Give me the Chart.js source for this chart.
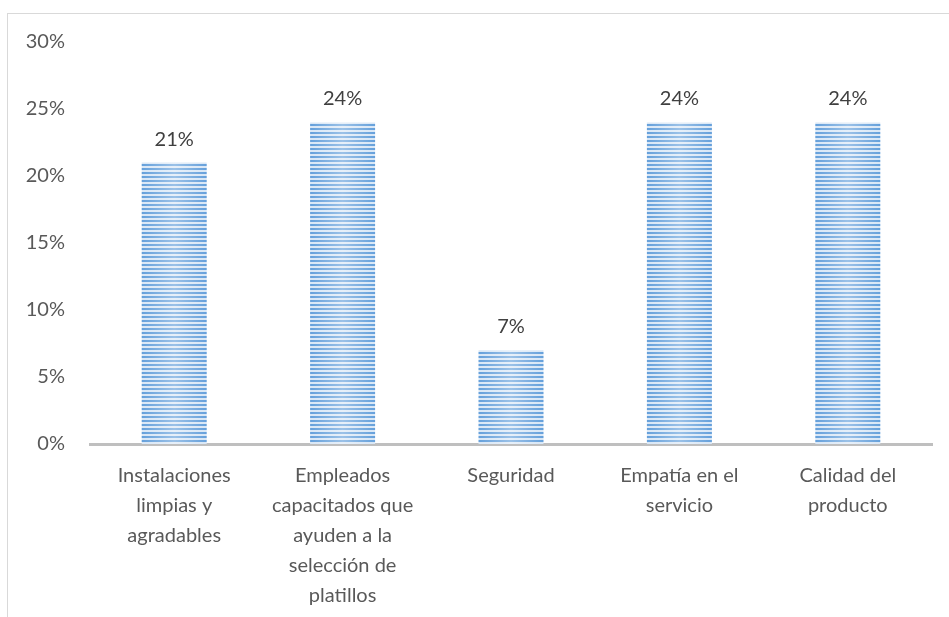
<!DOCTYPE html>
<html>
<head>
<meta charset="utf-8">
<script src="https://cdn.jsdelivr.net/npm/chart.js@4/dist/chart.umd.min.js"></script>
<style>
  html, body { margin: 0; padding: 0; background: #fff; }
  #wrap { position: relative; width: 949px; height: 617px; overflow: hidden; }
  #frame { position: absolute; left: 7px; top: 13px; width: 2000px; height: 2000px;
           border-left: 1px solid #d9d9d9; border-top: 1px solid #d9d9d9; }
  canvas { position: absolute; left: 0; top: 0; }
</style>
</head>
<body>
<div id="wrap">
  <div id="frame"></div>
  <canvas id="c" width="949" height="617"></canvas>
</div>
<script>
const categories = [
  ['Instalaciones', 'limpias y', 'agradables'],
  ['Empleados', 'capacitados que', 'ayuden a la', 'selección de', 'platillos'],
  ['Seguridad'],
  ['Empatía en el', 'servicio'],
  ['Calidad del', 'producto']
];
const values = [21, 24, 7, 24, 24];
const yTicks = [0, 5, 10, 15, 20, 25, 30];

const FONT = 'Lato, "Open Sans", sans-serif';
const FONT_SIZE = 20;

// Horizontal stripe fill used by the bars
function stripePattern(ctx) {
  const p = document.createElement('canvas');
  p.width = 4; p.height = 4;
  const g = p.getContext('2d');
  g.fillStyle = '#D9E7F6';
  g.fillRect(0, 0, 4, 4);
  g.fillStyle = '#65A0DB';
  g.fillRect(0, 0, 4, 2);
  return ctx.createPattern(p, 'repeat');
}

// Soft highlight across the middle of each bar, plus value labels above
const barDecor = {
  id: 'barDecor',
  afterDatasetsDraw(chart) {
    const ctx = chart.ctx;
    const meta = chart.getDatasetMeta(0);
    ctx.save();
    meta.data.forEach((bar, i) => {
      const left = bar.x - bar.width / 2;
      const right = bar.x + bar.width / 2;
      const grad = ctx.createLinearGradient(left, 0, right, 0);
      grad.addColorStop(0, 'rgba(255,255,255,0)');
      grad.addColorStop(0.5, 'rgba(255,255,255,0.35)');
      grad.addColorStop(1, 'rgba(255,255,255,0)');
      ctx.fillStyle = grad;
      ctx.fillRect(left, bar.y, bar.width, bar.base - bar.y);

      ctx.fillStyle = '#404040';
      ctx.font = FONT_SIZE + 'px ' + FONT;
      ctx.textAlign = 'center';
      ctx.textBaseline = 'alphabetic';
      ctx.fillText(values[i] + '%', bar.x, bar.y - 17);
    });
    ctx.restore();
  }
};

const ctx = document.getElementById('c').getContext('2d');
new Chart(ctx, {
  type: 'bar',
  data: {
    labels: categories,
    datasets: [{
      data: values,
      backgroundColor: stripePattern(ctx),
      borderWidth: 0,
      barPercentage: 0.386,
      categoryPercentage: 1.0
    }]
  },
  options: {
    responsive: false,
    animation: false,
    devicePixelRatio: 1,
    layout: { padding: { left: 0, right: 17, top: 42, bottom: 0 } },
    plugins: { legend: { display: false }, tooltip: { enabled: false } },
    scales: {
      x: {
        grid: { display: false, drawTicks: false },
        border: { display: true, color: '#BFBFBF', width: 3 },
        ticks: {
          color: '#595959',
          font: { family: FONT, size: FONT_SIZE, lineHeight: 1.5 },
          padding: 17,
          maxRotation: 0,
          autoSkip: false
        },
        afterFit(scale) { scale.height = 173; }
      },
      y: {
        min: 0, max: 30,
        grid: { display: false, drawTicks: false },
        border: { display: false },
        afterBuildTicks(scale) { scale.ticks = yTicks.map(v => ({ value: v })); },
        ticks: {
          color: '#595959',
          font: { family: FONT, size: FONT_SIZE },
          padding: 25,
          callback: v => v + '%'
        },
        afterFit(scale) { scale.width = 90; }
      }
    }
  },
  plugins: [barDecor]
});
</script>
</body>
</html>
